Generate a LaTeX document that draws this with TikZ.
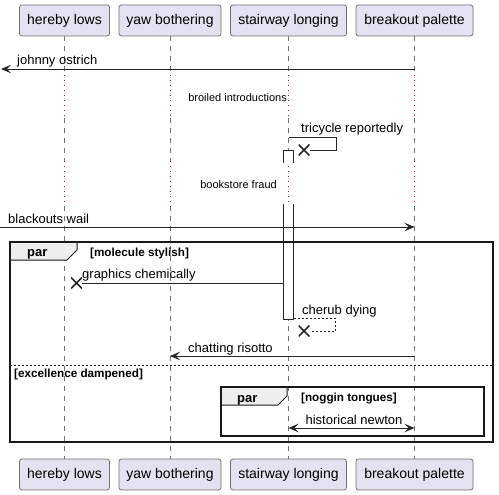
\documentclass[tikz,border=0pt]{standalone}
\usepackage{fontspec}
\setmainfont{Liberation Sans}
\usetikzlibrary{arrows.meta}
\definecolor{partfill}{HTML}{E2E2F0}
\definecolor{partline}{HTML}{707070}
\definecolor{lifec}{HTML}{707070}
\definecolor{delayc}{HTML}{C0004F}
\definecolor{tabfill}{HTML}{EEEEEE}
\tikzset{
  participant/.style={draw=partline, line width=0.8pt, fill=partfill, rounded corners=2.5pt,
    minimum height=31pt, inner sep=0pt, font=\fontsize{14}{16}\selectfont},
  lifeline/.style={draw=lifec, line width=0.6pt, dash pattern=on 5pt off 5pt},
  delayline/.style={draw=delayc, line width=0.8pt, dash pattern=on 1pt off 4pt},
  msg/.style={draw=black!85, line width=0.9pt},
  tip/.style={-{Stealth[length=10pt,width=8.5pt,inset=4pt]}},
  dtip/.style={{Stealth[length=10pt,width=8.5pt,inset=4pt]}-{Stealth[length=10pt,width=8.5pt,inset=4pt]}},
  dmsg/.style={msg, dash pattern=on 2pt off 2pt},
  mlabel/.style={inner sep=0pt, font=\fontsize{13}{15}\selectfont},
  dlabel/.style={inner sep=0pt, font=\fontsize{11}{13}\selectfont},
  blabel/.style={inner sep=0pt, font=\fontsize{11.7}{13}\selectfont\bfseries},
  parlabel/.style={inner sep=0pt, font=\fontsize{13}{15}\selectfont\bfseries},
  xmark/.style={minimum size=11pt, inner sep=0pt, path picture={
    \draw[line width=1.7pt, black!85] (path picture bounding box.north west) -- (path picture bounding box.south east)
      (path picture bounding box.north east) -- (path picture bounding box.south west);}},
  frame/.style={draw=black!90, line width=1.5pt},
  tabshape/.style={draw=black!90, line width=1pt, fill=tabfill},
  actbox/.style={draw=black!85, line width=0.9pt, fill=white},
}
\begin{document}
\begin{tikzpicture}[x=1pt,y=-1pt]
\useasboundingbox (0,0) rectangle (499,495);

% participants
\node[participant, minimum width=90pt]  (tA) at (64.5,20.5) {hereby lows};
\node[participant, minimum width=102pt] (tB) at (170,20.5) {yaw bothering};
\node[participant, minimum width=116pt] (tC) at (288.5,20.5) {stairway longing};
\node[participant, minimum width=117pt] (tD) at (414.5,20.5) {breakout palette};
\node[participant, minimum width=90pt]  (bA) at (64.5,474.5) {hereby lows};
\node[participant, minimum width=102pt] (bB) at (170,474.5) {yaw bothering};
\node[participant, minimum width=116pt] (bC) at (288.5,474.5) {stairway longing};
\node[participant, minimum width=117pt] (bD) at (414.5,474.5) {breakout palette};

% lifelines
\foreach \p in {A,B,C,D} {
  \draw[lifeline] (t\p.south) -- (t\p.south |- 0,75);
  \draw[delayline] (t\p.south |- 0,75) -- (t\p.south |- 0,118);
  \draw[lifeline] (t\p.south |- 0,118) -- (t\p.south |- 0,161);
  \draw[delayline] (t\p.south |- 0,161) -- (t\p.south |- 0,206);
  \draw[lifeline] (t\p.south |- 0,206) -- (b\p.north);
}

% activation on stairway longing
\filldraw[actbox] (283.5,163) -- (283.5,150) -- (293.5,150) -- (293.5,163);
\fill[white] (283.5,204) rectangle (293.5,319);
\draw[actbox] (283.5,204) -- (283.5,319) -- (293.5,319) -- (293.5,204);

% johnny ostrich
\coordinate (m1s) at (414.5,69);
\coordinate (m1e) at (1,69);
\draw[msg, tip] (m1s) -- (m1e);
\node[mlabel, anchor=base west] (l1) at (17,65) {johnny ostrich};

% delay 1
\node[dlabel, anchor=base east] (d1) at (287,102) {broiled introductions};

% tricycle reportedly
\coordinate (m2s) at (288.5,137);
\node[xmark] (x2) at (304,150) {};
\draw[msg] (m2s) -- (336,137) -- (336,150) -- (x2.east);
\node[mlabel, anchor=base west] (l2) at (301,133) {tricycle reportedly};

% delay 2
\node[dlabel, anchor=base east] (d2) at (277,189) {bookstore fraud};

% blackouts wail
\coordinate (m3s) at (0,227);
\coordinate (m3e) at (414.5,227);
\draw[msg, tip] (m3s) -- (m3e);
\node[mlabel, anchor=base west] (l3) at (8,223) {blackouts wail};

% outer par frame
\filldraw[tabshape] (10,242) -- (77,242) -- (77,250) -- (67,260) -- (10,260) -- cycle;
\draw[frame] (10,242) rectangle (493,442);
\node[parlabel, anchor=base west] (p1) at (27,256) {par};
\node[blabel, anchor=base west] (c1) at (90,256) {[molecule stylish]};

% graphics chemically
\coordinate (m4s) at (283.5,283);
\node[xmark] (x4) at (76.5,283) {};
\draw[msg] (m4s) -- (x4.east);
\node[mlabel, anchor=base west] (l4) at (82,279) {graphics chemically};

% cherub dying
\coordinate (m5s) at (293.5,318);
\node[xmark] (x5) at (304,331) {};
\draw[dmsg] (m5s) -- (335,318) -- (335,331) -- (x5.east);
\node[mlabel, anchor=base west] (l5) at (302,314) {cherub dying};

% chatting risotto
\coordinate (m6s) at (414.5,356);
\coordinate (m6e) at (170,356);
\draw[msg, tip] (m6s) -- (m6e);
\node[mlabel, anchor=base west] (l6) at (188,352) {chatting risotto};

% separator
\draw[black!90, line width=0.9pt, dash pattern=on 2pt off 2pt] (10,365) -- (493,365);
\node[blabel, anchor=base west] (c2) at (14,377) {[excellence dampened]};

% inner par frame
\filldraw[tabshape] (221,387) -- (287,387) -- (287,396) -- (278,405) -- (221,405) -- cycle;
\draw[frame] (221,387) rectangle (484,436);
\node[parlabel, anchor=base west] (p2) at (237,402) {par};
\node[blabel, anchor=base west] (c3) at (301,401) {[noggin tongues]};

% historical newton
\coordinate (m7s) at (288.5,428);
\coordinate (m7e) at (414.5,428);
\draw[msg, dtip] (m7s) -- (m7e);
\node[mlabel, anchor=base] (l7) at (354,424) {historical newton};

\end{tikzpicture}
\end{document}
